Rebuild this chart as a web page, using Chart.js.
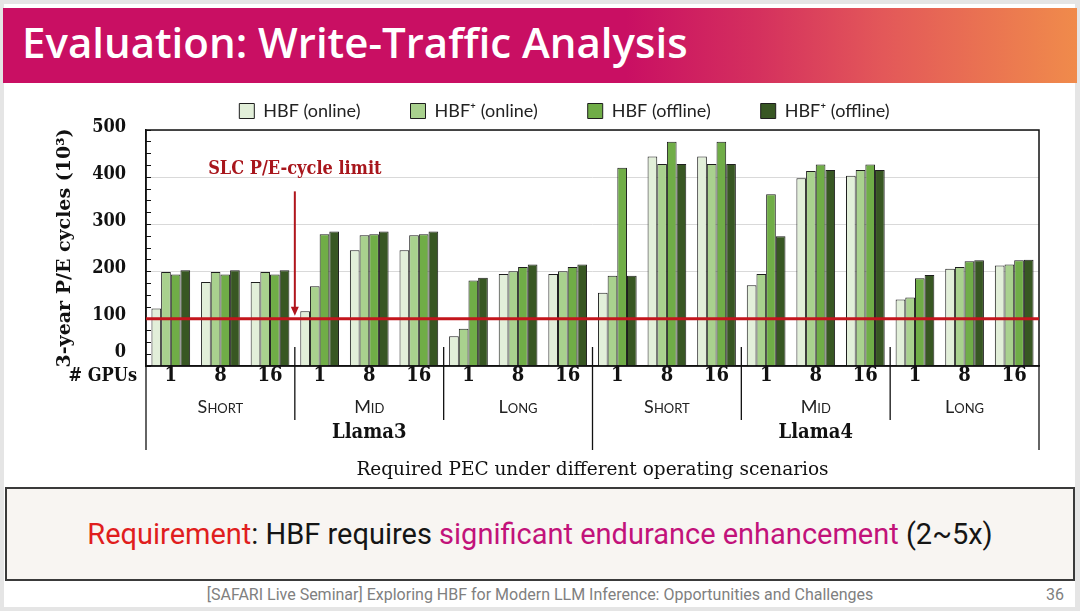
<!DOCTYPE html>
<html>
<head>
<meta charset="utf-8">
<script src="https://cdn.jsdelivr.net/npm/chart.js@4.4.1/dist/chart.umd.min.js"></script>
<style>
html, body { margin: 0; padding: 0; }
body { width: 1080px; height: 611px; background: #e5e5e5; position: relative; overflow: hidden; font-family: Roboto, sans-serif; }
#slide { position: absolute; left: 4px; top: 4px; width: 1071px; height: 603px; background: #fff; }
#bar { position: absolute; left: 3px; top: 8px; width: 1074px; height: 75px;
  background: linear-gradient(90deg, #c90f63 0%, #c90f63 58%, #d42f5e 70%, #e35859 82%, #f08b4b 100%); }
#bar h1 { margin: 0; position: absolute; left: 19px; top: 5px; color: #fff; font: 600 42px "Open Sans";
  white-space: nowrap; }
#wrap { position: absolute; left: 0; top: 40px; width: 1080px; height: 450px; }
#req { position: absolute; left: 5px; top: 487px; width: 1066px; height: 90px; border: 2px solid #3a3a3a;
  background: #f8f5f2; display: flex; align-items: center; justify-content: center;
  font: 400 29px Roboto; color: #151515; white-space: nowrap; }
#req .r { color: #e01e1e; }
#req .m { color: #c2127a; }
#foot { position: absolute; left: 0; width: 1080px; top: 585px; text-align: center; font: 400 16px Roboto; color: #808080; }
#page { position: absolute; left: 1046px; top: 585px; font: 400 16px Roboto; color: #808080; }
</style>
</head>
<body>
<div id="slide"></div>
<div id="bar"><h1>Evaluation: Write-Traffic Analysis</h1></div>
<div id="wrap"><canvas id="pecChart" width="1080" height="450"></canvas></div>
<div id="req"><span><span class="r">Requirement</span>: HBF requires <span class="m">significant endurance enhancement</span> (2~5x)</span></div>
<div id="foot">[SAFARI Live Seminar] Exploring HBF for Modern LLM Inference: Opportunities and Challenges</div>
<div id="page">36</div>
<script>
// category levels
const gpuCounts = ['1', '8', '16'];
const scenarios = ['Short', 'Mid', 'Long'];
const models = ['Llama3', 'Llama4'];

// 3-year P/E cycles (x10^3), order: Llama3 S/M/L then Llama4 S/M/L, each 1/8/16 GPUs
const hbfOnline      = [122, 178, 178, 116, 245, 245,  63, 195, 195, 155, 444, 444, 171, 398, 403, 141, 206, 213];
const hbfPlusOnline  = [199, 199, 199, 169, 277, 277,  79, 201, 201, 191, 428, 428, 195, 413, 415, 145, 210, 215];
const hbfOffline     = [194, 194, 194, 279, 279, 279, 181, 210, 210, 420, 475, 475, 364, 427, 427, 186, 222, 224];
const hbfPlusOffline = [203, 203, 203, 285, 285, 285, 187, 215, 215, 191, 428, 428, 275, 415, 415, 193, 224, 225];

const slcLimit = 100;
const yTicks = [0, 100, 200, 300, 400, 500];

const gpuLabels = [];
const scenarioLabels = [];
models.forEach(() => scenarios.forEach(s => {
  scenarioLabels.push(s);
  gpuCounts.forEach(g => gpuLabels.push(g));
}));

const serifC = '"DejaVu Serif Condensed", "DejaVu Serif", serif';
const serif = '"DejaVu Serif", serif';
const sans = 'Lato, "Open Sans", sans-serif';

const extras = {
  id: 'extras',
  afterDatasetsDraw(chart) {
    const { ctx, chartArea: a, scales: { x, y } } = chart;
    const mid = i => (x.getPixelForValue(i) + x.getPixelForValue(i + 1)) / 2;
    ctx.save();
    // frame round the plot
    ctx.strokeStyle = '#111'; ctx.lineWidth = 1.5;
    ctx.strokeRect(a.left, a.top, a.right - a.left, a.bottom - a.top);
    // SLC limit line
    const ly = y.getPixelForValue(slcLimit);
    ctx.strokeStyle = '#c3151c'; ctx.lineWidth = 3;
    ctx.beginPath(); ctx.moveTo(a.left, ly); ctx.lineTo(a.right, ly); ctx.stroke();
    // arrow + label
    const ax = mid(2);
    ctx.strokeStyle = '#b0151c'; ctx.fillStyle = '#b0151c'; ctx.lineWidth = 2;
    ctx.beginPath(); ctx.moveTo(ax, y.getPixelForValue(370)); ctx.lineTo(ax, ly - 10); ctx.stroke();
    ctx.beginPath(); ctx.moveTo(ax, ly - 3); ctx.lineTo(ax - 4, ly - 12); ctx.lineTo(ax + 4, ly - 12); ctx.closePath(); ctx.fill();
    ctx.fillStyle = '#a8161c';
    ctx.font = 'bold 18px ' + serifC;
    ctx.textAlign = 'center'; ctx.textBaseline = 'middle';
    ctx.fillText('SLC P/E-cycle limit', ax, y.getPixelForValue(416));
    ctx.restore();
  },
  afterDraw(chart) {
    const { ctx, chartArea: a, scales: { x, x2, x3 } } = chart;
    const mid = i => (x.getPixelForValue(i) + x.getPixelForValue(i + 1)) / 2;
    ctx.save();
    ctx.strokeStyle = '#111'; ctx.lineWidth = 1.3;
    const top = a.bottom - 19;
    const shortEnd = x2.bottom - 2;
    const longEnd = x3.top + 28;
    const seg = (px, y1, y2) => { ctx.beginPath(); ctx.moveTo(px, y1); ctx.lineTo(px, y2); ctx.stroke(); };
    const perModel = gpuLabels.length / models.length;
    for (let i = 2; i < gpuLabels.length - 1; i += 3) {
      seg(mid(i), top, (i + 1) % perModel === 0 ? longEnd : shortEnd);
    }
    seg(a.left, a.bottom, longEnd);
    seg(a.right, a.bottom, longEnd);
    ctx.fillStyle = '#111';
    ctx.font = 'bold 18px ' + serifC;
    ctx.textAlign = 'right'; ctx.textBaseline = 'middle';
    ctx.fillText('# GPUs', a.left - 9, x.top + 10);
    ctx.restore();
  }
};

new Chart(document.getElementById('pecChart'), {
  type: 'bar',
  data: {
    labels: gpuLabels,
    datasets: [
      { label: 'HBF (online)', data: hbfOnline, backgroundColor: '#e2efd9' },
      { label: 'HBF\u207A (online)', data: hbfPlusOnline, backgroundColor: '#a9d18e' },
      { label: 'HBF (offline)', data: hbfOffline, backgroundColor: '#70ad47' },
      { label: 'HBF\u207A (offline)', data: hbfPlusOffline, backgroundColor: '#385723' }
    ].map(d => Object.assign(d, { borderColor: '#1e1e1e', borderWidth: 1, categoryPercentage: 0.78, barPercentage: 1 }))
  },
  options: {
    responsive: false,
    animation: false,
    layout: { padding: { left: 90, right: 41, top: 12, bottom: 0 } },
    plugins: {
      legend: {
        position: 'top',
        labels: { boxWidth: 15, boxHeight: 15, padding: 50, color: '#222', font: { family: sans, size: 18 } }
      },
      tooltip: { enabled: false }
    },
    scales: {
      y: {
        min: 0, max: 500,
        afterFit: s => { s.width = 56; },
        ticks: {
          stepSize: 25, autoSkip: false, padding: 25, labelOffset: -3, color: '#111',
          font: { family: serifC, size: 18, weight: 'bold' },
          callback: v => yTicks.includes(v) ? (v === 0 ? ['0', ''] : String(v)) : ''
        },
        grid: {
          drawTicks: true, tickLength: -5, tickColor: '#111',
          color: c => yTicks.includes(c.tick.value) ? '#d9d9d9' : 'rgba(0,0,0,0)'
        },
        border: { color: '#111', width: 1.5 },
        title: {
          display: true, text: '3-year P/E cycles (10\u00B3)', color: '#111',
          font: { family: serif, size: 19, weight: 'bold' },
          padding: { top: -36.4, bottom: 0 }
        }
      },
      x: {
        weight: 0,
        afterFit: s => { s.height = 22; },
        grid: { display: false, drawTicks: false, tickLength: 0 },
        border: { color: '#111', width: 1.5 },
        ticks: { autoSkip: false, maxRotation: 0, padding: 0, color: '#111', font: { family: serifC, size: 20, weight: 'bold', lineHeight: 1 } }
      },
      x2: {
        type: 'category', position: 'bottom', weight: 1, offset: true,
        labels: scenarioLabels,
        afterFit: s => { s.height = 34; },
        grid: { display: false, drawTicks: false, tickLength: 0 }, border: { display: false },
        ticks: { autoSkip: false, maxRotation: 0, padding: 10, color: '#222', font: { family: sans, size: 18, weight: 'small-caps', lineHeight: 1 } }
      },
      x3: {
        type: 'category', position: 'bottom', weight: 2, offset: true,
        labels: models,
        afterFit: s => { s.height = 68; },
        grid: { display: false, drawTicks: false, tickLength: 0 }, border: { display: false },
        ticks: { autoSkip: false, maxRotation: 0, padding: 1, color: '#111', font: { family: serifC, size: 20, weight: 'bold', lineHeight: 1 } },
        title: {
          display: true, text: 'Required PEC under different operating scenarios', color: '#111',
          font: { family: serif, size: 18.5 }, padding: { top: 0, bottom: 9 }
        }
      }
    }
  },
  plugins: [extras]
});
</script>
</body>
</html>
